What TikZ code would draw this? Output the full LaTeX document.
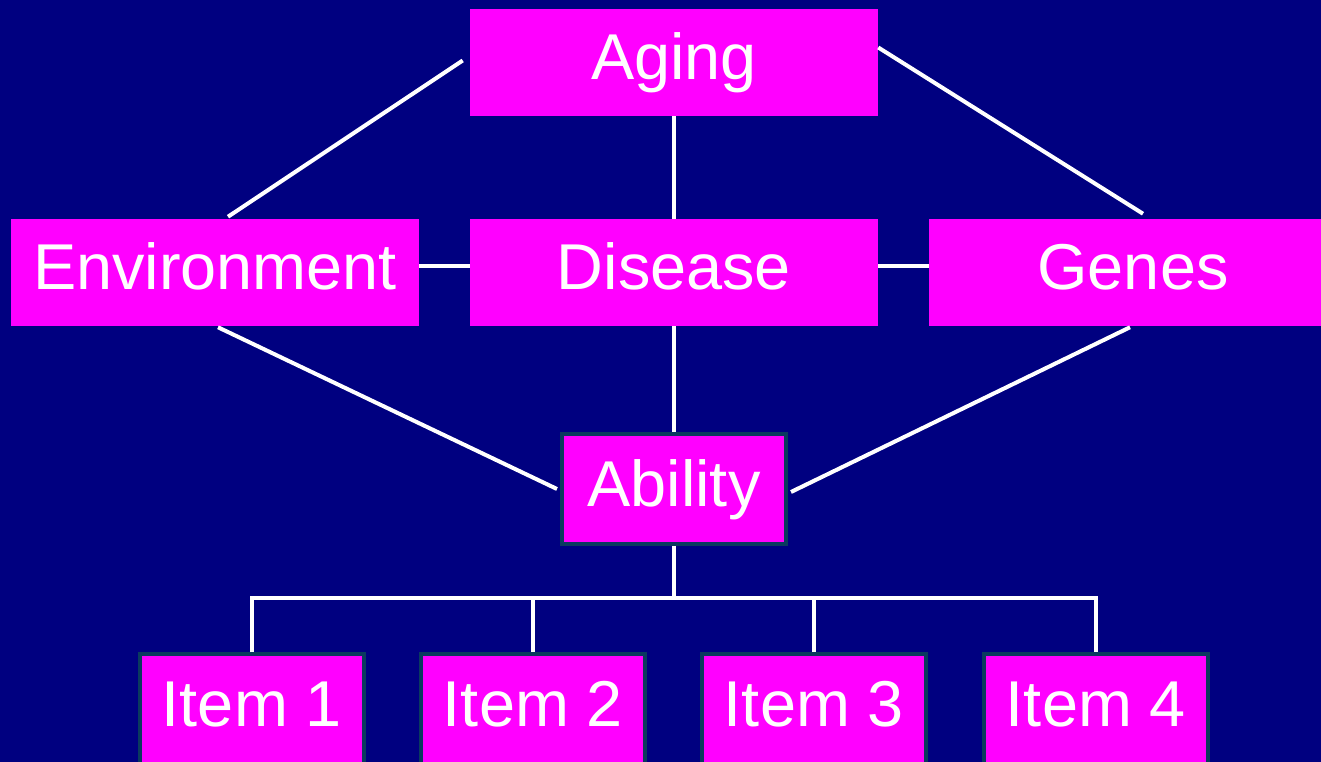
\documentclass[tikz,border=0pt]{standalone}
\usepackage{fontspec}
\setmainfont{Liberation Sans}
\usetikzlibrary{calc}
\definecolor{bgnavy}{RGB}{0,0,128}
\definecolor{boxmag}{RGB}{255,0,255}
\definecolor{edgeteal}{RGB}{10,58,94}
\begin{document}
\begin{tikzpicture}[x=0.75pt,y=-0.75pt,
  box/.style={fill=boxmag, text=white, inner sep=0pt,
    font=\fontsize{48.6}{58}\selectfont, text height=35pt, text depth=8.75pt},
  widebox/.style={box, minimum width=306pt, minimum height=80.25pt},
  framedbox/.style={box, draw=edgeteal, line width=3pt,
    minimum width=168pt, minimum height=82.5pt},
  link/.style={draw=white, line width=3pt}]
  % canvas
  \useasboundingbox (0,0) rectangle (1321,762);
  \fill[bgnavy] (0,0) rectangle (1321,762);
  \clip (0,0) rectangle (1321,762);

  % top level
  \node[widebox] (aging) at (674,62.5) {Aging};
  % middle row
  \node[widebox] (env) at (215,272.5) {Environment};
  \node[widebox] (disease) at (674,272.5) {Disease};
  \node[widebox] (genes) at (1133,272.5) {Genes};
  % latent ability
  \node[framedbox] (ability) at (674,489) {Ability};
  % items
  \node[framedbox] (item1) at (252,709) {Item 1};
  \node[framedbox] (item2) at (533,709) {Item 2};
  \node[framedbox] (item3) at (814,709) {Item 3};
  \node[framedbox] (item4) at (1096,709) {Item 4};

  % connectors
  \draw[link] ($(aging.west)+(-7,-2)$) -- ($(env.north)+(13,-2)$);
  \draw[link] ($(aging.east)+(0,-15)$) -- ($(genes.north)+(10,-5)$);
  \draw[link] (aging.south) -- (disease.north);
  \draw[link] ($(env.east)+(0,-6)$) -- ($(disease.west)+(0,-6)$);
  \draw[link] ($(disease.east)+(0,-6)$) -- ($(genes.west)+(0,-6)$);
  \draw[link] ($(env.south)+(3,1)$) -- ($(ability.west)+(-3,0)$);
  \draw[link] ($(genes.south)+(-3,1)$) -- ($(ability.east)+(3,3)$);
  \draw[link] (disease.south) -- (ability.north);

  % item tree
  \coordinate (bus) at (674,598);
  \draw[link] (ability.south) -- (bus);
  \draw[link] (item1.north) -- (item1.north |- bus) -- (item4.north |- bus) -- (item4.north);
  \draw[link] (item2.north) -- (item2.north |- bus);
  \draw[link] (item3.north) -- (item3.north |- bus);
\end{tikzpicture}
\end{document}
